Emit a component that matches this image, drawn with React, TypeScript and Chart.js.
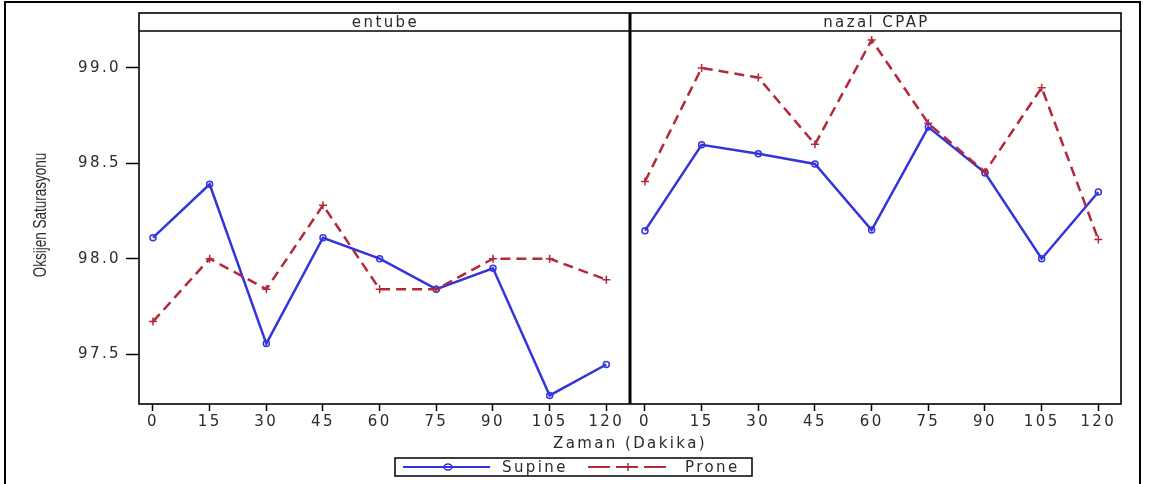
import React, { useEffect, useRef } from 'react';
import { Chart, registerables } from 'chart.js';

Chart.register(...registerables);

// ---- data ----
const timePoints = [0, 15, 30, 45, 60, 75, 90, 105, 120];
const panelTitles = ['entube', 'nazal CPAP'];
const seriesNames = ['Supine', 'Prone'];
const entubeSupine = [98.11, 98.39, 97.555, 98.11, 98.0, 97.84, 97.95, 97.283, 97.445];
const entubeProne = [97.67, 98.0, 97.84, 98.28, 97.84, 97.84, 98.0, 98.0, 97.89];
const cpapSupine = [98.147, 98.597, 98.55, 98.497, 98.15, 98.69, 98.45, 98.0, 98.35];
const cpapProne = [98.405, 99.0, 98.95, 98.6, 99.147, 98.71, 98.455, 98.897, 98.1];
const yTicks = [97.5, 98.0, 98.5, 99.0];
const xTitle = 'Zaman (Dakika)';
const yTitle = 'Oksijen Saturasyonu';

// ---- style ----
const BLUE = '#3434dc';
const RED = '#b3283a';
const TEXT = '#2a2a2a';
const WIDE = "'DejaVu Sans', 'Liberation Sans', sans-serif";
const FS = 15;
const LS = '2.4px';
const Y_MIN = 97.238;
const Y_MAX = 99.194;
const X_MIN = -3.7;
const X_MAX = 126;

const spacingPlugin = {
  id: 'spacing',
  beforeDraw(chart: any) {
    chart.ctx.letterSpacing = LS;
  },
};

function pts(vals: number[]) {
  return timePoints.map((t, i) => ({ x: t, y: vals[i] }));
}

function drawPlus(ctx: CanvasRenderingContext2D, x: number, y: number, r: number) {
  ctx.beginPath();
  ctx.moveTo(x - r, y);
  ctx.lineTo(x + r, y);
  ctx.moveTo(x, y - r);
  ctx.lineTo(x, y + r);
  ctx.stroke();
}

const decorPlugin = {
  id: 'decor',
  afterDraw(chart: any) {
    const ctx: CanvasRenderingContext2D = chart.ctx;
    const a = chart.chartArea;
    const left = a.left;
    const top = a.top;
    const bottom = a.bottom;
    const right = 1121;
    const divider = 630;
    const headTop = 13;
    ctx.save();
    ctx.letterSpacing = '0px';
    ctx.strokeStyle = '#000';
    // outer frame
    ctx.lineWidth = 2;
    ctx.strokeRect(5, 2, 1135, 500);
    // panel frame
    ctx.lineWidth = 1.6;
    ctx.strokeRect(left, headTop, right - left, bottom - headTop);
    ctx.beginPath();
    ctx.moveTo(left, top);
    ctx.lineTo(right, top);
    ctx.stroke();
    ctx.lineWidth = 3;
    ctx.beginPath();
    ctx.moveTo(divider, headTop);
    ctx.lineTo(divider, bottom);
    ctx.stroke();

    // headers
    ctx.letterSpacing = LS;
    ctx.fillStyle = TEXT;
    ctx.font = `${FS}px ${WIDE}`;
    ctx.textAlign = 'center';
    ctx.textBaseline = 'middle';
    ctx.fillText(panelTitles[0], (left + divider) / 2 + 1, (headTop + top) / 2 + 1);
    ctx.fillText(panelTitles[1], (divider + right) / 2 + 1, (headTop + top) / 2 + 1);

    // x title
    ctx.fillText(xTitle, 630, 444);

    // legend
    ctx.letterSpacing = '0px';
    ctx.lineWidth = 1.5;
    ctx.strokeStyle = '#000';
    ctx.strokeRect(395, 458, 357, 18);
    const ly = 467;
    ctx.strokeStyle = BLUE;
    ctx.lineWidth = 2;
    ctx.beginPath();
    ctx.moveTo(403, ly);
    ctx.lineTo(490, ly);
    ctx.stroke();
    ctx.lineWidth = 1.5;
    ctx.beginPath();
    ctx.ellipse(448, ly, 4, 3, 0, 0, Math.PI * 2);
    ctx.stroke();
    ctx.strokeStyle = RED;
    ctx.lineWidth = 2;
    ctx.setLineDash([22, 6]);
    ctx.beginPath();
    ctx.moveTo(588, ly);
    ctx.lineTo(667, ly);
    ctx.stroke();
    ctx.setLineDash([]);
    ctx.lineWidth = 1.5;
    drawPlus(ctx, 628, ly, 4);
    ctx.letterSpacing = LS;
    ctx.fillStyle = TEXT;
    ctx.textAlign = 'left';
    ctx.fillText(seriesNames[0], 502, ly + 1);
    ctx.fillText(seriesNames[1], 685, ly + 1);

    // y title (condensed)
    ctx.letterSpacing = '0px';
    ctx.translate(41, 215);
    ctx.rotate(-Math.PI / 2);
    ctx.scale(0.75, 1);
    ctx.font = "18px 'Liberation Sans', sans-serif";
    ctx.textAlign = 'center';
    ctx.fillText(yTitle, 0, 0);
    ctx.restore();
  },
};

function makeConfig(supine: number[], prone: number[], first: boolean): any {
  return {
    type: 'line',
    data: {
      datasets: [
        {
          label: seriesNames[0],
          data: pts(supine),
          borderColor: BLUE,
          borderWidth: 2.5,
          pointStyle: 'circle',
          pointRadius: 3,
          pointBorderWidth: 1.5,
          pointBorderColor: BLUE,
          pointBackgroundColor: 'rgba(255,255,255,0)',
          tension: 0,
          order: 1,
        },
        {
          label: seriesNames[1],
          data: pts(prone),
          borderColor: RED,
          borderWidth: 2.5,
          borderDash: [10, 6],
          pointStyle: 'cross',
          pointRadius: 4,
          pointBorderWidth: 1.5,
          pointBorderColor: RED,
          pointBackgroundColor: RED,
          tension: 0,
          order: 0,
        },
      ],
    },
    options: {
      responsive: false,
      animation: false,
      devicePixelRatio: 1,
      layout: {
        padding: first
          ? { left: 0, top: 31, right: 1150 - 629, bottom: 50 }
          : { left: 631, top: 31, right: 29, bottom: 50 },
      },
      plugins: { legend: { display: false }, tooltip: { enabled: false }, title: { display: false } },
      scales: {
        x: {
          type: 'linear',
          min: X_MIN,
          max: X_MAX,
          afterBuildTicks: (s: any) => {
            s.ticks = timePoints.map((v) => ({ value: v }));
          },
          afterFit: (s: any) => {
            s.height = 30;
          },
          ticks: {
            color: TEXT,
            font: { family: WIDE, size: FS },
            padding: 2,
            maxRotation: 0,
            autoSkip: false,
            callback: (v: any) => String(v),
          },
          grid: { drawOnChartArea: false, drawTicks: true, tickLength: 7, tickColor: '#000', tickWidth: 1.5 },
          border: { display: false },
        },
        y: {
          type: 'linear',
          min: Y_MIN,
          max: Y_MAX,
          display: first,
          afterBuildTicks: (s: any) => {
            s.ticks = yTicks.map((v) => ({ value: v }));
          },
          afterFit: (s: any) => {
            if (first) s.width = 139;
          },
          ticks: {
            color: TEXT,
            font: { family: WIDE, size: FS },
            padding: 5,
            callback: (v: any) => Number(v).toFixed(1),
          },
          grid: { drawOnChartArea: false, drawTicks: true, tickLength: 13, tickColor: '#000', tickWidth: 1.5 },
          border: { display: false },
        },
      },
    },
    plugins: first ? [spacingPlugin, decorPlugin] : [spacingPlugin],
  };
}

export default function App() {
  const ref1 = useRef<HTMLCanvasElement>(null);
  const ref2 = useRef<HTMLCanvasElement>(null);

  useEffect(() => {
    document.body.style.margin = '0';
    const c1 = new Chart(ref1.current as HTMLCanvasElement, makeConfig(entubeSupine, entubeProne, true));
    const c2 = new Chart(ref2.current as HTMLCanvasElement, makeConfig(cpapSupine, cpapProne, false));
    return () => {
      c1.destroy();
      c2.destroy();
    };
  }, []);

  const cs: React.CSSProperties = { position: 'absolute', left: 0, top: 0 };
  return (
    <div style={{ position: 'fixed', left: 0, top: 0, width: 1150, height: 484, background: '#fff' }}>
      <canvas ref={ref1} width={1150} height={484} style={cs} />
      <canvas ref={ref2} width={1150} height={484} style={cs} />
    </div>
  );
}
